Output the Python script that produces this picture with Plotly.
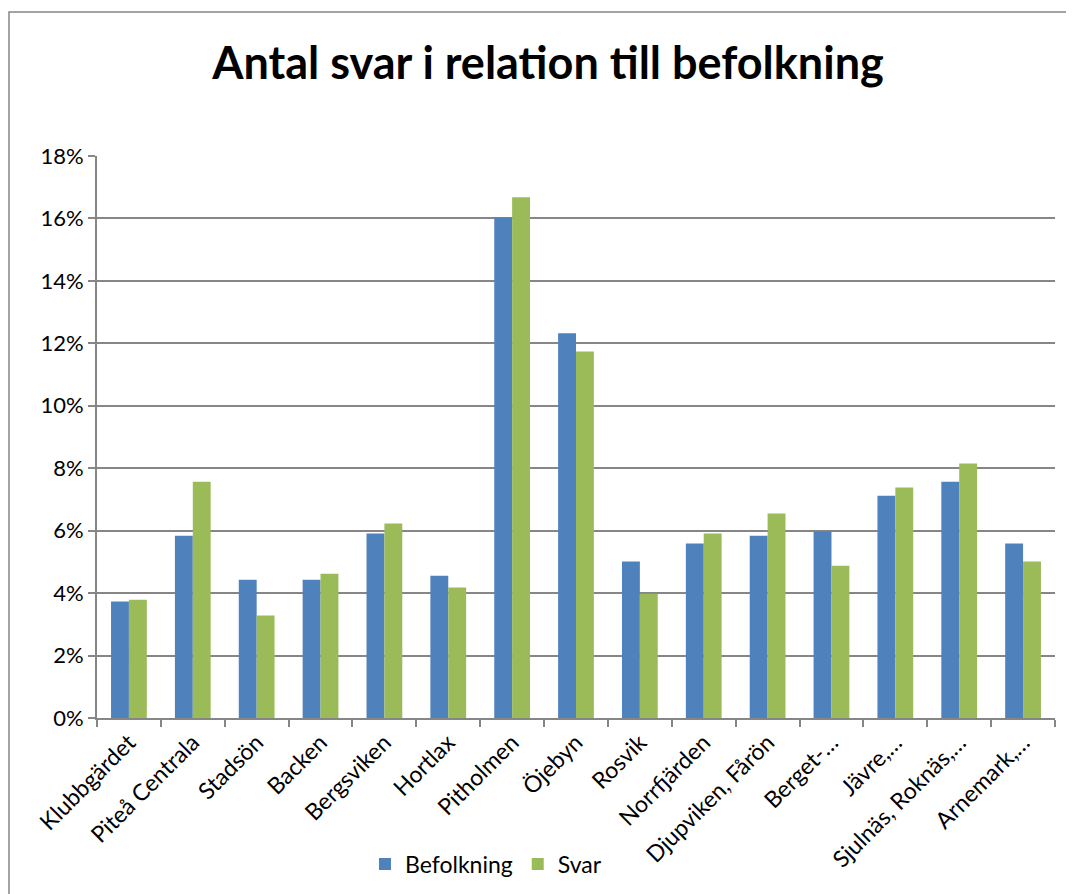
import plotly.graph_objects as go

# data (percent)
CATEGORIES = ['Klubbgärdet', 'Piteå Centrala', 'Stadsön', 'Backen', 'Bergsviken',
              'Hortlax', 'Pitholmen', 'Öjebyn', 'Rosvik', 'Norrfjärden',
              'Djupviken, Fårön', 'Berget-…', 'Jävre,…', 'Sjulnäs, Roknäs,…', 'Arnemark,…']
BEFOLKNING = [3.73, 5.84, 4.43, 4.43, 5.91, 4.56, 16.03, 12.32, 5.01, 5.59,
              5.84, 5.97, 7.12, 7.57, 5.59]
SVAR = [3.79, 7.57, 3.28, 4.62, 6.23, 4.18, 16.68, 11.74, 3.98, 5.91,
        6.55, 4.88, 7.38, 8.15, 5.01]

BLUE = '#4F81BD'
GREEN = '#9BBB59'
GRID = '#868686'
FONT = 'Lato'

fig = go.Figure()
fig.add_trace(go.Bar(x=CATEGORIES, y=BEFOLKNING, name='Befolkning',
                     marker=dict(color=BLUE, line=dict(width=0))))
fig.add_trace(go.Bar(x=CATEGORIES, y=SVAR, name='Svar',
                     marker=dict(color=GREEN, line=dict(width=0))))

# the page body has an 8px margin, so work in window pixels minus OFF
OFF = 8
W, H = 1074 - OFF, 894 - OFF
# plot area in window pixels: x 97..1055, y 156..718
L, T = 97 - OFF, 156 - OFF
R, B = 1074 - 1055, 894 - 718
pw, ph = W - L - R, H - T - B

def px_x(x):
    return (x - OFF - L) / pw

def px_y(y):
    return (H - B - (y - OFF)) / ph

fig.update_layout(
    width=W, height=H,
    margin=dict(l=L, r=R, t=T, b=B, autoexpand=False),
    paper_bgcolor='white', plot_bgcolor='white',
    font=dict(family=FONT, size=22, color='black'),
    title=dict(text='<b>Antal svar i relation till befolkning</b>',
               x=(548 - OFF) / W, xref='container', xanchor='center',
               y=1 - (63 - OFF) / H, yref='container', yanchor='middle',
               font=dict(family=FONT, size=45, color='black')),
    barmode='group', bargap=0.44, bargroupgap=0,
    showlegend=True,
    legend=dict(orientation='h', x=px_x(486), xanchor='center',
                y=px_y(864), yanchor='middle',
                font=dict(family=FONT, size=23, color='black'),
                itemwidth=30, traceorder='normal'),
    shapes=[dict(type='rect', xref='paper', yref='paper',
                 x0=px_x(9), x1=px_x(1100), y0=px_y(1000), y1=px_y(12),
                 line=dict(color=GRID, width=1.5), layer='below')],
)

fig.update_yaxes(range=[0, 18], dtick=2, ticksuffix='%', automargin=False,
                 showgrid=True, gridcolor=GRID, gridwidth=1.5,
                 showline=True, linecolor=GRID, linewidth=2,
                 ticks='outside', ticklen=7, tickcolor=GRID, tickwidth=2,
                 zeroline=False, tickfont=dict(size=22))
fig.update_xaxes(tickangle=-45, tickson='boundaries', automargin=False,
                 showline=True, linecolor=GRID, linewidth=2,
                 ticks='outside', ticklen=7, tickcolor=GRID, tickwidth=2,
                 showgrid=False, tickfont=dict(size=23))

fig.write_html('out.html')
